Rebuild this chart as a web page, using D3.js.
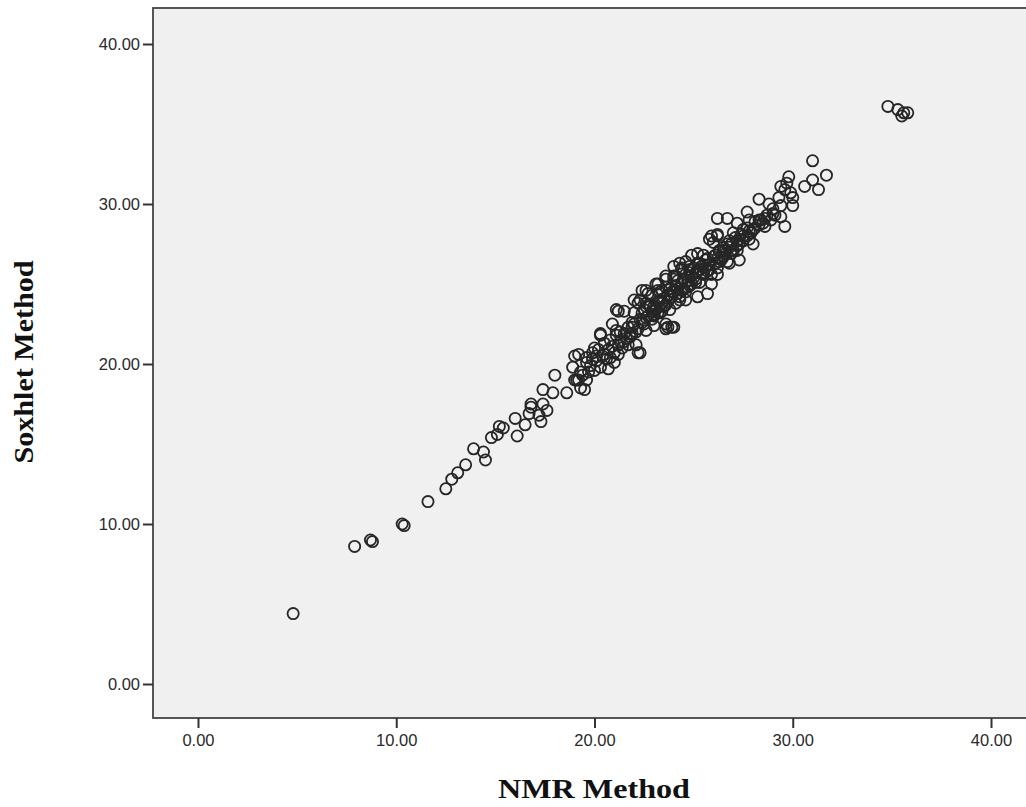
<!DOCTYPE html>
<html lang="en">
<head>
<meta charset="utf-8">
<title>NMR vs Soxhlet</title>
<script src="https://d3js.org/d3.v7.min.js"></script>
<style>
  body { margin: 0; background: #fff; }
  .tick text { font-family: "Liberation Sans", Arial, sans-serif; font-size: 16.5px; fill: #2a2a2a; }
  .tick line { stroke: #333; stroke-width: 2; }
  .title { font-family: "Liberation Serif", "Times New Roman", serif; font-weight: bold; font-size: 27px; fill: #111; }
</style>
</head>
<body>
<svg width="1026" height="807"></svg>
<script>
// [NMR, Soxhlet] pairs, grouped by region
var lowerTail = [[4.8,4.4],[7.9,8.6],[8.7,9.0],[8.8,8.9],[10.3,10.0],[10.4,9.9],[11.6,11.4],[12.5,12.2],[12.8,12.8],[13.1,13.2],[13.5,13.7],[13.9,14.7],[14.4,14.5],[14.5,14.0],[14.8,15.4],[15.1,15.6],[15.2,16.1],[15.4,16.0],[16.1,15.5],[16.0,16.6],[16.5,16.2],[16.7,16.9],[16.8,17.3],[16.8,17.5],[17.3,16.4],[17.2,16.8],[17.4,17.5],[17.6,17.1],[17.4,18.4],[17.9,18.2],[18.0,19.3],[18.6,18.2]]

var middleBand = [[18.9,19.8],[19.0,20.5],[19.2,19.0],[19.3,18.5],[19.5,18.4],[19.6,20.1],[19.7,19.5],[19.9,20.7],[20.0,21.0],[20.3,21.9],[20.3,19.8],[20.7,19.7],[20.5,21.3],[20.8,21.5],[21.0,20.1],[21.2,20.6],[20.9,22.5],[21.2,23.3],[21.5,23.3],[21.1,22.1],[21.5,21.9],[21.8,21.7],[22.1,21.2],[22.3,20.7],[21.9,22.6],[22.0,23.2],[22.2,23.8],[22.6,22.1],[23.0,22.4],[23.6,22.2],
  [19.0,19.0],[19.3,19.5],[19.1,19.0],[19.6,19.0],[19.2,20.6],[22.2,20.7],[21.7,21.2],[21.1,23.4],[20.3,21.8],[22.0,24.0]]

var denseCore = [[19.4,19.3],[19.8,19.9],[19.6,20.4],[20.1,20.2],[20.0,19.6],[20.4,20.5],[20.2,20.9],[20.6,20.3],[20.7,20.9],[20.9,21.1],[21.0,20.7],[21.3,21.4],[21.1,21.8],[21.4,21.0],[21.6,21.6],[21.7,22.3],[21.9,21.9],[22.0,22.5],[22.2,22.2],[22.3,22.8],[22.5,22.5],[22.4,23.2],[22.7,23.0],[22.8,23.6],[22.9,22.8],[23.1,23.5],[23.2,23.9],[23.4,23.3],[23.5,24.1],[23.3,24.5],[23.7,23.9],[23.8,24.7],[23.9,24.2],[24.1,24.9],[24.2,24.4],[24.0,25.3],[24.4,25.1],[24.5,24.7],[24.6,25.6],[24.7,25.2],[24.9,25.5],[25.0,26.0],[25.2,25.8],[25.1,25.3],[25.4,26.1],[25.5,25.6],[25.6,26.5],[25.8,26.2],[25.7,25.8],[26.0,26.7],[26.1,26.3],[26.3,27.0],[26.4,26.5],[26.5,27.3],[26.6,26.9],[26.8,27.7],[26.9,27.1],[27.1,27.9],[27.2,27.4],[27.4,28.1],[27.5,27.7],[27.7,28.5],[27.9,28.2],[28.1,28.9],[28.0,28.4],[28.3,29.0],[28.5,28.8],[28.7,29.3],[29.0,29.7],[29.1,29.3],[22.6,23.8],[23.0,23.1],[23.6,24.8],[24.3,24.0],[24.8,24.9],[25.3,25.1],[25.9,25.6],[26.2,26.0],[26.7,26.4],[22.9,24.3],[23.4,24.6],[24.1,25.5],[24.8,26.1]]

var denseCore2 = [[20.5,20.6],[20.8,20.4],[21.2,21.2],[21.5,21.4],[21.8,21.9],[22.1,22.0],[22.4,22.6],[22.6,22.9],[22.9,23.3],[23.2,23.2],[23.4,23.8],[23.7,24.3],[24.0,24.5],[24.2,24.7],[24.5,25.3],[24.7,24.8],[25.0,25.4],[25.3,25.9],[25.5,26.2],[25.8,25.9],[26.1,26.8],[26.3,26.4],[26.6,27.1],[26.9,27.5],[27.2,27.7],[27.5,28.0],[27.8,28.3],[28.1,28.5],[28.4,29.0],[28.6,29.1],[21.3,22.0],[21.9,22.3],[22.5,23.4],[23.0,23.6],[23.5,23.6],[24.2,25.2],[24.9,25.0],[25.6,26.0],[26.2,26.6],[26.9,26.9],[20.1,20.5],[19.9,20.3],[23.9,24.5],[24.4,24.6],[25.1,25.7]]

var upperBand = [[22.7,24.4],[23.2,24.6],[23.3,24.0],[23.6,23.7],[24.1,23.8],[24.3,24.2],[24.6,24.0],[23.8,23.4],[23.1,23.4],[22.8,23.7],[22.4,24.6],[22.3,24.0],[23.1,25.0],[23.6,25.3],[23.8,24.7],[22.6,23.6],[23.0,23.0],[23.3,23.2],[23.6,22.5],[23.9,22.3],[24.0,26.1],[24.4,26.0],[24.3,26.3],[24.8,25.7],[25.1,25.1],[25.3,26.3],[25.5,25.7],[24.9,26.8],[25.2,26.9],[25.5,26.8],[25.7,26.6],[24.6,24.5],[25.2,24.2],[25.7,24.4],[25.9,25.0],[26.2,25.6],[25.8,27.8],[26.2,28.0],[26.3,27.1],[26.7,27.5],[27.0,27.1],[27.3,27.5],[27.7,28.0],[28.0,27.5],[27.3,26.5],[26.8,26.3],[26.5,26.7],[24.0,22.3],[24.6,26.4],[24.8,25.9],[25.2,26.3],[24.4,25.9],[24.0,25.5],[23.6,25.5],[23.2,25.0],[23.7,22.3],[22.6,24.6]]

var upperEnd = [[31.0,32.7],[30.6,31.1],[31.0,31.5],[31.3,30.9],[31.7,31.8],[29.8,31.7],[29.7,31.3],[29.6,30.9],[29.9,30.7],[30.0,30.4],[30.0,29.9],[29.4,31.1],[29.3,30.4],[29.4,29.9],[29.4,29.2],[29.6,28.6],[28.3,30.3],[28.8,30.0],[29.0,29.4],[28.9,29.0],[27.7,29.5],[27.8,29.0],[28.3,28.7],[28.6,28.6],[26.2,29.1],[26.7,29.1],[27.2,28.8],[27.5,28.4],[27.8,27.8],[25.9,28.0],[26.2,28.1],[26.0,27.6],[27.0,28.2],[27.3,27.8],[26.8,27.3],[26.5,27.1],[27.2,27.1]]

var topOutliers = [[34.8,36.1],[35.3,35.9],[35.6,35.7],[35.8,35.7],[35.5,35.5]]

var xTicks = [0, 10, 20, 30, 40]
var yTicks = [0, 10, 20, 30, 40]

var points = [].concat(lowerTail, middleBand, denseCore, denseCore2, upperBand, upperEnd, topOutliers)

var svg = d3.select("svg")
var plotLeft = 153, plotTop = 8, plotBottom = 718

// x and y scales
var x = d3.scaleLinear().domain([0, 40]).range([198, 991])
var y = d3.scaleLinear().domain([0, 40]).range([684, 44])
var fmt = d3.format(".2f")

// plot background
svg.append("rect")
  .attr("x", plotLeft).attr("y", plotTop)
  .attr("width", 900).attr("height", plotBottom - plotTop)
  .attr("fill", "#f0f0f0")
  .attr("stroke", "#444").attr("stroke-width", 1.8)

// points
svg.append("g").selectAll("circle")
  .data(points)
  .enter()
  .append("circle")
  .attr("cx", function (d) { return x(d[0]) })
  .attr("cy", function (d) { return y(d[1]) })
  .attr("r", 5.6)
  .attr("fill", "none")
  .attr("stroke", "#262626")
  .attr("stroke-width", 1.8)

// axes
var gy = svg.append("g").attr("transform", "translate(" + plotLeft + ",0)")
  .call(d3.axisLeft(y).tickValues(yTicks).tickFormat(fmt).tickSize(10).tickPadding(3))
gy.select(".domain").remove()

var gx = svg.append("g").attr("transform", "translate(0," + plotBottom + ")")
  .call(d3.axisBottom(x).tickValues(xTicks).tickFormat(fmt).tickSize(10).tickPadding(6))
gx.select(".domain").remove()

// axis titles
svg.append("text").attr("class", "title")
  .attr("x", 594).attr("y", 798)
  .attr("text-anchor", "middle")
  .attr("textLength", 192).attr("lengthAdjust", "spacingAndGlyphs")
  .text("NMR Method")

svg.append("text").attr("class", "title")
  .attr("transform", "translate(33,362) rotate(-90)")
  .attr("text-anchor", "middle")
  .attr("textLength", 203).attr("lengthAdjust", "spacingAndGlyphs")
  .text("Soxhlet Method")
</script>
</body>
</html>
